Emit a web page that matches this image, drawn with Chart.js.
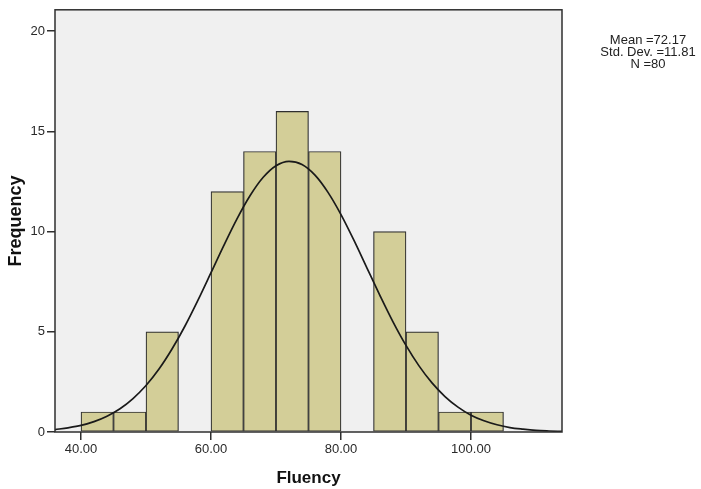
<!DOCTYPE html>
<html>
<head>
<meta charset="utf-8">
<script src="https://cdn.jsdelivr.net/npm/chart.js@4.4.1/dist/chart.umd.min.js"></script>
<style>
  html, body { margin: 0; padding: 0; background: #ffffff; }
  #wrap { width: 701px; height: 489px; }
</style>
</head>
<body>
<div id="wrap"><canvas id="chart" width="701" height="489"></canvas></div>
<script>
// histogram bins (midpoints, width 5) and counts
const binCenters = [42.5, 47.5, 52.5, 57.5, 62.5, 67.5, 72.5, 77.5, 82.5, 87.5, 92.5, 97.5, 102.5];
const binCounts  = [1, 1, 5, 0, 12, 14, 16, 14, 0, 10, 5, 1, 1];

// normal curve
const curveX = [36, 38, 40, 42, 44, 46, 48, 50, 52, 54, 56, 58, 60, 62, 64, 66, 68, 70, 72, 74, 76,
                78, 80, 82, 84, 86, 88, 90, 92, 94, 96, 98, 100, 102, 104, 106, 108, 110, 112, 114];
const curveY = [0.12, 0.21, 0.33, 0.52, 0.79, 1.16, 1.67, 2.32, 3.14, 4.14, 5.29, 6.58, 7.95, 9.33, 10.64,
                11.79, 12.70, 13.29, 13.51, 13.35, 12.82, 11.96, 10.85, 9.56, 8.18, 6.81, 5.50, 4.32, 3.30,
                2.45, 1.77, 1.24, 0.84, 0.56, 0.36, 0.22, 0.14, 0.08, 0.05, 0.03];

const xTicks = [40, 60, 80, 100];
const yTicks = [0, 5, 10, 15, 20];
const statsLines = ["Mean =72.17", "Std. Dev. =11.81", "N =80"];

const axisColor = "#2f2f2f";
const tickFont = { family: "Liberation Sans, Arial, sans-serif", size: 13 };

// grey plot background + frame + stats text
const framePlugin = {
  id: "frame",
  beforeDraw(chart) {
    const { ctx, chartArea: a } = chart;
    ctx.save();
    ctx.fillStyle = "#f0f0f0";
    ctx.fillRect(a.left, a.top, a.right - a.left, a.bottom - a.top);
    ctx.restore();
  },
  afterDraw(chart) {
    const { ctx, chartArea: a } = chart;
    ctx.save();
    ctx.strokeStyle = axisColor;
    ctx.lineWidth = 1.5;
    ctx.strokeRect(a.left, a.top, a.right - a.left, a.bottom - a.top);
    ctx.fillStyle = "#222222";
    ctx.font = "13px 'Liberation Sans', Arial, sans-serif";
    ctx.textAlign = "center";
    ctx.textBaseline = "middle";
    statsLines.forEach((t, i) => ctx.fillText(t, 648, 40 + i * 12));
    ctx.restore();
  }
};

new Chart(document.getElementById("chart"), {
  data: {
    datasets: [
      {
        type: "line",
        data: curveX.map((x, i) => ({ x: x, y: curveY[i] })),
        borderColor: "#1a1a1a",
        borderWidth: 1.7,
        pointRadius: 0,
        cubicInterpolationMode: "monotone",
        fill: false,
        order: 0
      },
      {
        type: "bar",
        data: binCenters.map((x, i) => ({ x: x, y: binCounts[i] })),
        backgroundColor: "#d3ce98",
        borderColor: axisColor,
        borderWidth: 1.2,
        borderSkipped: false,
        barPercentage: 1,
        categoryPercentage: 1,
        order: 1
      }
    ]
  },
  options: {
    responsive: false,
    animation: false,
    layout: { padding: { top: 7, right: 139, left: 0, bottom: 0 } },
    plugins: { legend: { display: false }, tooltip: { enabled: false } },
    scales: {
      x: {
        type: "linear",
        min: 36,
        max: 114,
        offset: false,
        afterBuildTicks: (s) => { s.ticks = xTicks.map(v => ({ value: v })); },
        afterFit: (s) => { s.height = 57; },
        ticks: {
          font: tickFont,
          color: "#2a2a2a",
          padding: 2,
          maxRotation: 0,
          callback: (v) => Number(v).toFixed(2)
        },
        grid: { offset: false, drawOnChartArea: false, tickLength: 8, color: axisColor, lineWidth: 1.5 },
        border: { display: false },
        title: {
          display: true,
          text: "Fluency",
          color: "#111111",
          font: { family: "Liberation Sans, Arial, sans-serif", size: 17, weight: "bold" },
          padding: { top: 0, bottom: 0 }
        }
      },
      y: {
        type: "linear",
        min: 0,
        max: 21.07,
        afterBuildTicks: (s) => { s.ticks = yTicks.map(v => ({ value: v })); },
        afterFit: (s) => { s.width = 55; },
        ticks: { font: tickFont, color: "#2a2a2a", padding: 2 },
        grid: { drawOnChartArea: false, tickLength: 8, color: axisColor, lineWidth: 1.5 },
        border: { display: false },
        title: {
          display: true,
          text: "Frequency",
          color: "#111111",
          font: { family: "Liberation Sans, Arial, sans-serif", size: 18, weight: "bold" },
          padding: { top: 5, bottom: 0 }
        }
      }
    }
  },
  plugins: [framePlugin]
});
</script>
</body>
</html>
